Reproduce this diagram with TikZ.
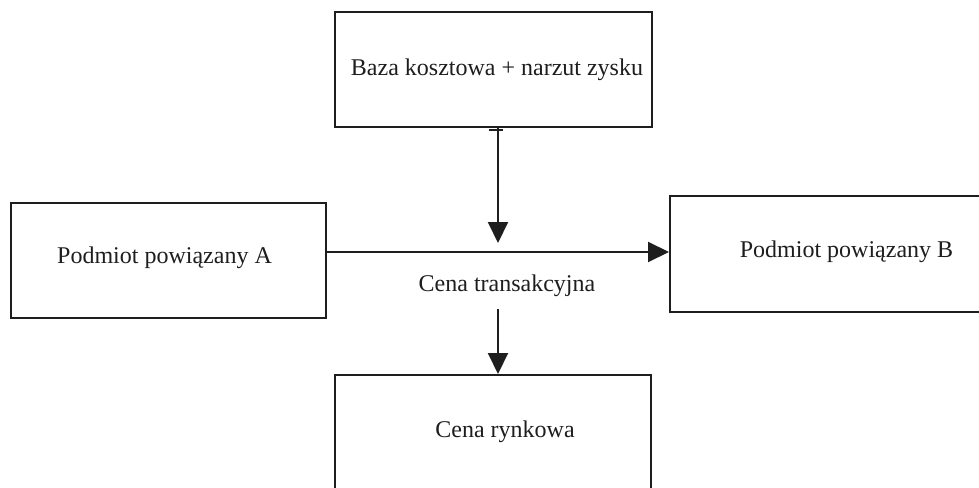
\documentclass[tikz,border=0pt]{standalone}
\usepackage{fontspec}
\setmainfont{Liberation Serif}
\usetikzlibrary{arrows.meta}
\definecolor{ink}{HTML}{1E1E1E}
\begin{document}
\begin{tikzpicture}[x=1pt,y=-1pt,
  box/.style={draw=ink,line width=2pt,rectangle,inner sep=0pt,text=ink,font=\fontsize{24}{28}\selectfont},
  lbl/.style={inner sep=0pt,text=ink,font=\fontsize{24}{28}\selectfont},
  conn/.style={draw=ink,line width=2pt,-{Triangle[length=21pt,width=20pt]}}]
\useasboundingbox (0,0) rectangle (979,487);
\fill[white] (0,0) rectangle (979,487);
% boxes
\node[box,minimum width=317pt,minimum height=115pt] (top) at (493.5,69.5) {};
\node[lbl] (toptext) at (497,70) {Baza kosztowa + narzut zysku};
\node[box,minimum width=315pt,minimum height=115pt] (A) at (168.5,260.5) {};
\node[lbl] (Atext) at (164.5,258) {Podmiot powiązany A};
\node[box,minimum width=353pt,minimum height=116pt] (B) at (846.5,254) {};
\node[lbl] (Btext) at (846.5,252) {Podmiot powiązany B};
\node[box,minimum width=316pt,minimum height=116pt] (C) at (493,433) {};
\node[lbl] (Ctext) at (505,432) {Cena rynkowa};
\node[lbl] (T) at (507,286) {Cena transakcyjna};
% coordinates
\coordinate (h) at (0,252);
\coordinate (v) at (498,0);
\coordinate (vtip) at (498,243);
\coordinate (lstart) at (498,309);
% connectors
\draw[conn] (top.south -| v) -- (vtip);
\draw[draw=ink,line width=1.5pt] ([xshift=-9pt,yshift=-2pt]top.south -| v) -- ([xshift=5pt,yshift=-2pt]top.south -| v);
\draw[conn] (A.east |- h) -- (B.west |- h);
\draw[conn] (lstart) -- (C.north -| v);
\end{tikzpicture}
\end{document}
